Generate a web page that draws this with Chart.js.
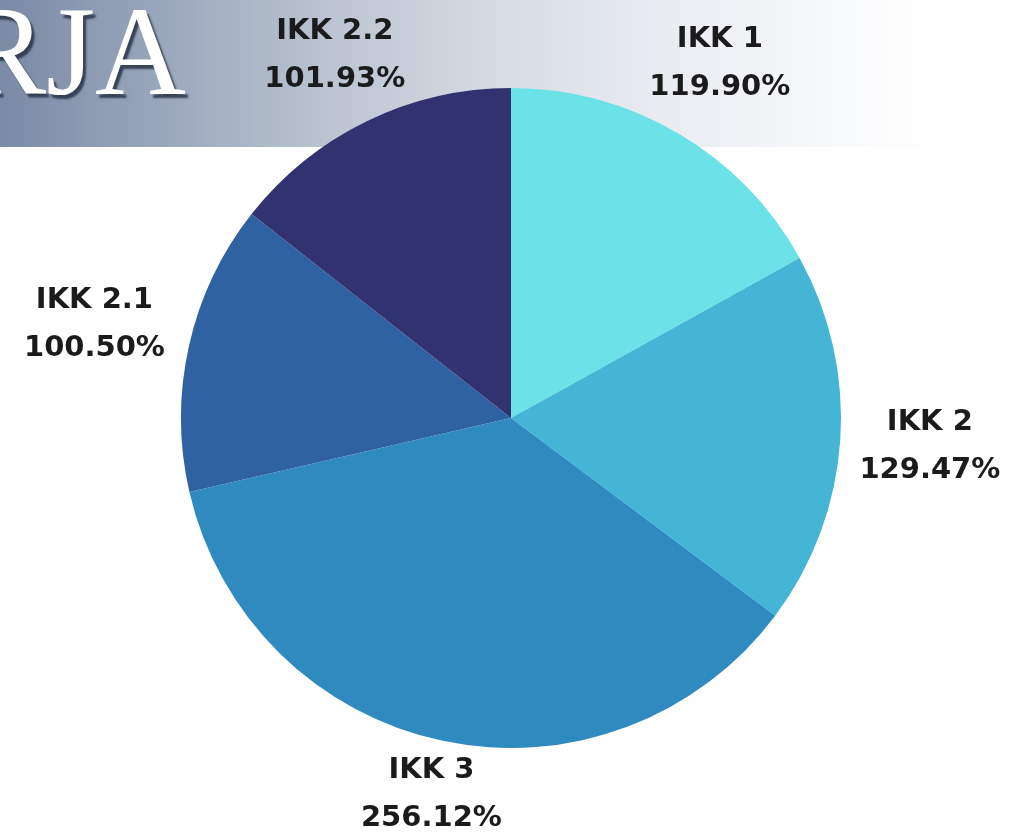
<!DOCTYPE html>
<html>
<head>
<meta charset="utf-8">
<script src="https://cdn.jsdelivr.net/npm/chart.js@4"></script>
<style>
  html, body { margin: 0; padding: 0; background: #ffffff; overflow: hidden; }
  #stage { position: relative; width: 1019px; height: 832px; }
  #banner {
    position: absolute; left: 0; top: 0; width: 1019px; height: 147px;
    background: linear-gradient(to right, #7b8aa5 0%, #98a6bb 15%, #bcc5d1 33%, #d8dde6 50%, #eceef3 68%, #f8f9fb 82%, #ffffff 92%);
  }
  #banner-title {
    position: absolute; right: 833px; top: -11px;
    font-family: "Liberation Serif", "DejaVu Serif", serif;
    font-size: 126px; line-height: 1; color: #ffffff;
    text-shadow: 3px 4px 2px rgba(40, 50, 70, 0.85);
    white-space: nowrap;
  }
  #chart { position: absolute; left: 0; top: 0; }
</style>
</head>
<body>
<div id="stage">
  <div id="banner"><div id="banner-title">KERJA</div></div>
  <canvas id="chart" width="1019" height="832"></canvas>
</div>
<script>
// Indicator names and their achievement percentages
const categories = ['IKK 1', 'IKK 2', 'IKK 3', 'IKK 2.1', 'IKK 2.2'];
const percentages = [119.90, 129.47, 256.12, 100.50, 101.93];
const sliceColors = ['#6ae2e8', '#45b5d6', '#2f8bbf', '#2e62a2', '#30336f'];

// Extra space between the pie edge and each label block
const labelGaps = [14, 17, 4, 20, 9];

// Draws "name / value%" outside each slice, along the slice's middle angle
const outerLabels = {
  id: 'outerLabels',
  afterDatasetsDraw(chart) {
    const ctx = chart.ctx;
    const meta = chart.getDatasetMeta(0);
    const lineGap = 48;
    ctx.save();
    ctx.font = 'bold 29px "DejaVu Sans", sans-serif';
    ctx.fillStyle = '#1b1b1b';
    ctx.textAlign = 'center';
    ctx.textBaseline = 'middle';
    meta.data.forEach((arc, i) => {
      const p = arc.getProps(['x', 'y', 'startAngle', 'endAngle', 'outerRadius'], true);
      const mid = (p.startAngle + p.endAngle) / 2;
      const dx = Math.cos(mid), dy = Math.sin(mid);
      const line1 = categories[i];
      const line2 = percentages[i].toFixed(2) + '%';
      const w = Math.max(ctx.measureText(line1).width, ctx.measureText(line2).width) / 2;
      const h = 37;
      const dist = p.outerRadius + labelGaps[i] + Math.abs(dx) * w + Math.abs(dy) * h;
      const cx = p.x + dx * dist;
      const cy = p.y + dy * dist;
      ctx.fillText(line1, cx, cy - lineGap / 2);
      ctx.fillText(line2, cx, cy + lineGap / 2);
    });
    ctx.restore();
  }
};

new Chart(document.getElementById('chart'), {
  type: 'pie',
  data: {
    labels: categories,
    datasets: [{
      data: percentages,
      backgroundColor: sliceColors,
      borderWidth: 0
    }]
  },
  options: {
    responsive: false,
    devicePixelRatio: 1,
    animation: false,
    layout: { padding: { left: 181, right: 178, top: 88, bottom: 84 } },
    plugins: {
      legend: { display: false },
      tooltip: { enabled: false }
    }
  },
  plugins: [outerLabels]
});
</script>
</body>
</html>
